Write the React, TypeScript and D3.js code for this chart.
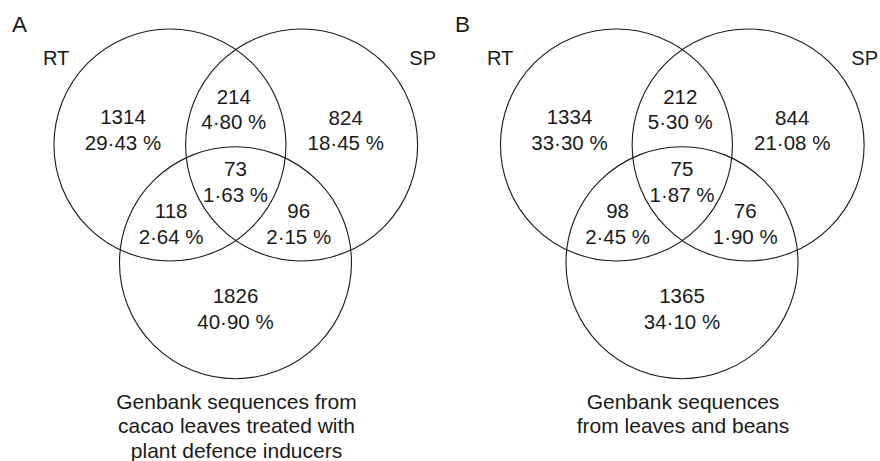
import React from "react";
import * as d3 from "d3";

// ---- data ----
const panelLetters = ["A", "B"];
const setNames = ["RT", "SP"];
// region order: RT only, RT∩SP, SP only, all three, RT∩bottom, SP∩bottom, bottom only
const regionKeys = ["rt", "rtsp", "sp", "all", "rtb", "spb", "b"];
const countsA = [1314, 214, 824, 73, 118, 96, 1826];
const percentsA = ["29·43 %", "4·80 %", "18·45 %", "1·63 %", "2·64 %", "2·15 %", "40·90 %"];
const countsB = [1334, 212, 844, 75, 98, 76, 1365];
const percentsB = ["33·30 %", "5·30 %", "21·08 %", "1·87 %", "2·45 %", "1·90 %", "34·10 %"];
const captionA = ["Genbank sequences from", "cacao leaves treated with", "plant defence inducers"];
const captionB = ["Genbank sequences", "from leaves and beans"];

// ---- layout (in Venn unit space: radius = 1) ----
const circleCenters = [
  { x: -0.565, y: 0 },
  { x: 0.57, y: 0 },
  { x: 0, y: 1.015 },
];
const labelAnchors: Record<string, { x: number; y: number }> = {
  rt: { x: -0.97, y: -0.172 },
  rtsp: { x: -0.015, y: -0.345 },
  sp: { x: 0.95, y: -0.164 },
  all: { x: 0.0, y: 0.276 },
  rtb: { x: -0.555, y: 0.638 },
  spb: { x: 0.545, y: 0.638 },
  b: { x: 0.0, y: 1.371 },
};

const FONT = "'Liberation Sans', Arial, Helvetica, sans-serif";

function Panel({ cx, cy, r, letter, counts, percents, caption, letterX, rtX, spX }: any) {
  const x = d3.scaleLinear().domain([0, 1]).range([cx, cx + r]);
  const y = d3.scaleLinear().domain([0, 1]).range([cy, cy + r]);
  return (
    <g fontFamily={FONT} fill="#1a1a1a">
      {circleCenters.map((c, i) => (
        <circle key={i} cx={x(c.x)} cy={y(c.y)} r={x(1) - x(0)} fill="none" stroke="#1a1a1a" strokeWidth={1.1} />
      ))}
      <text x={letterX} y={32} fontSize={22.5}>{letter}</text>
      <text x={rtX} y={65} fontSize={20}>{setNames[0]}</text>
      <text x={spX} y={65} fontSize={20} textAnchor="end">{setNames[1]}</text>
      {regionKeys.map((k, i) => {
        const a = labelAnchors[k];
        return (
          <g key={k} textAnchor="middle" fontSize={20.5}>
            <text x={x(a.x)} y={y(a.y) - 1}>{counts[i]}</text>
            <text x={x(a.x)} y={y(a.y) + 24.5}>{percents[i]}</text>
          </g>
        );
      })}
      {caption.map((line: string, i: number) => (
        <text key={i} x={cx + 1} y={408.5 + i * 24.7} textAnchor="middle" fontSize={21}>{line}</text>
      ))}
    </g>
  );
}

export default function App() {
  return (
    <svg width={880} height={461} style={{ position: "absolute", left: 0, top: 0, background: "#fff" }}>
      <rect width={880} height={461} fill="#fff" />
      <Panel cx={235.5} cy={145} r={116} letter={panelLetters[0]} counts={countsA} percents={percentsA}
        caption={captionA} letterX={12} rtX={43} spX={436} />
      <Panel cx={682} cy={145} r={116} letter={panelLetters[1]} counts={countsB} percents={percentsB}
        caption={captionB} letterX={455} rtX={487} spX={878} />
    </svg>
  );
}
